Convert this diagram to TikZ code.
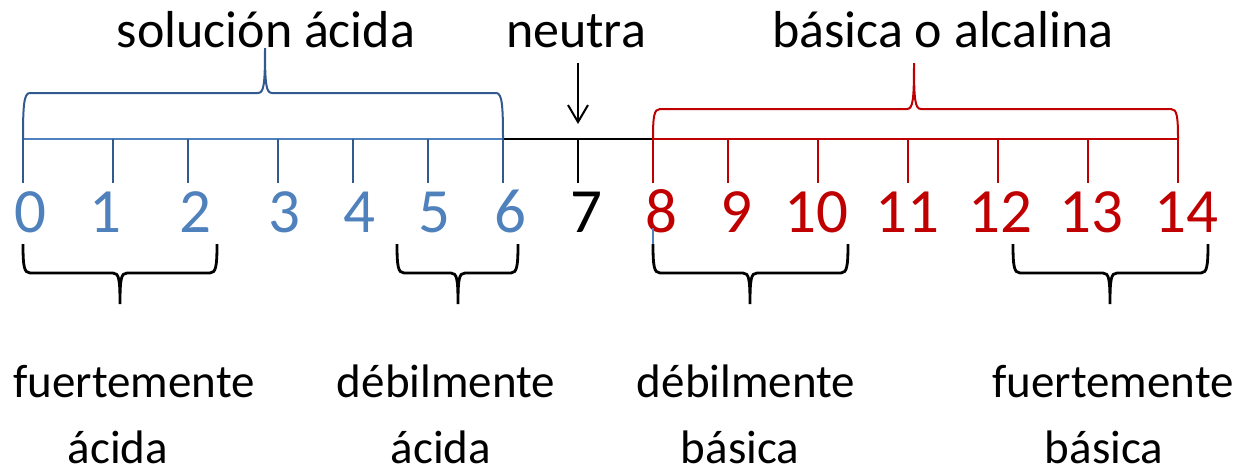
\documentclass[tikz,border=0pt]{standalone}
\usepackage{fontspec}
\setmainfont{Carlito}
\usetikzlibrary{arrows.meta}
\definecolor{dblue}{RGB}{50,90,142}
\definecolor{lblue}{RGB}{79,129,189}
\definecolor{dred}{RGB}{192,0,0}
% #1 x0, #2 tip x, #3 x1, #4 y end, #5 y bar, #6 y tip, #7 style
\newcommand\cbrace[7]{%
  \draw[#7] (#1,#4) .. controls (#1,{#5+0.25*(#4-#5)}) and ({#1+1},#5) .. ({#1+7},#5)
    -- ({#2-7},#5) .. controls ({#2-1},#5) and (#2,{#5+0.2*(#6-#5)}) .. (#2,#6)
    .. controls (#2,{#5+0.2*(#6-#5)}) and ({#2+1},#5) .. ({#2+7},#5)
    -- ({#3-7},#5) .. controls ({#3-1},#5) and (#3,{#5+0.25*(#4-#5)}) .. (#3,#4);}
\begin{document}
\begin{tikzpicture}[x=1pt,y=-1pt,
  toplabel/.style={anchor=base,inner sep=0pt,font=\fontsize{52}{60}\selectfont},
  botlabel/.style={anchor=base,inner sep=0pt,font=\fontsize{47}{56}\selectfont},
  digit/.style={anchor=base,inner sep=0pt,font=\fontsize{63}{70}\selectfont},
  tick/.style={line width=2pt},
  axis/.style={line width=2.4pt},
  topbr/.style={line width=2pt},
  botbr/.style={line width=2.8pt,black}]
\useasboundingbox (0,0) rectangle (1243,472);
% tick coordinates
\foreach \i/\x in {0/23,1/113,2/188,3/278,4/353,5/428,6/503,7/578,8/653,9/728,10/818,11/908,12/998,13/1088,14/1178}{
  \coordinate (t\i) at (\x,139);
  \coordinate (b\i) at (\x,183);
}
% axis
\draw[axis,lblue] (t0) -- (t6);
\draw[axis,black] (t6) -- (t8);
\draw[axis,dred] (t8) -- (t14);
% ticks
\foreach \i in {0,...,6}{\draw[tick,dblue] (t\i) -- (b\i);}
\draw[tick,black] (t7) -- (b7);
\foreach \i in {8,...,14}{\draw[tick,dred] (t\i) -- (b\i);}
% digits
\foreach \n/\x in {0/30,1/105,2/195,3/284,4/359,5/434,6/510}{
  \node[digit,text=lblue] (d\n) at (\x,232) {\n};}
\node[digit,text=black] (d7) at (586,232) {7};
\foreach \n/\x in {8/661,9/736,10/816,11/907,12/1000,13/1091,14/1186}{
  \node[digit,text=dred] (d\n) at (\x,232) {\n};}
% small blue mark
\coordinate (m1) at (653,228);
\coordinate (m2) at (653,245);
\draw[lblue,line width=1.5pt] (m1) -- (m2);
% top braces
\cbrace{23}{265}{503}{139}{93}{48}{topbr,dblue}
\cbrace{653}{914}{1178}{139}{109}{63}{topbr,dred}
% neutra arrow
\node[toplabel] (neu) at (576,47) {neutra};
\coordinate (a1) at (578,63);
\coordinate (a2) at (578,124);
\draw[line width=2pt,-{Straight Barb[length=17pt,width=20pt]}] (a1) -- (a2);
% top labels
\node[toplabel] (acid) at (266,47) {solución ácida};
\node[toplabel] (bas) at (943,47) {básica o alcalina};
% bottom braces
\cbrace{23}{120}{217}{244}{273}{304}{botbr}
\cbrace{397}{458}{518}{244}{273}{304}{botbr}
\cbrace{653}{750}{848}{244}{273}{304}{botbr}
\cbrace{1013}{1110}{1208}{244}{273}{304}{botbr}
% bottom labels
\node[botlabel] (fa1) at (134,397) {fuertemente};
\node[botlabel] (fa2) at (118,463) {ácida};
\node[botlabel] (da1) at (446,397) {débilmente};
\node[botlabel] (da2) at (441,463) {ácida};
\node[botlabel] (db1) at (746,397) {débilmente};
\node[botlabel] (db2) at (740,463) {básica};
\node[botlabel] (fb1) at (1113,397) {fuertemente};
\node[botlabel] (fb2) at (1104,463) {básica};
\end{tikzpicture}
\end{document}
